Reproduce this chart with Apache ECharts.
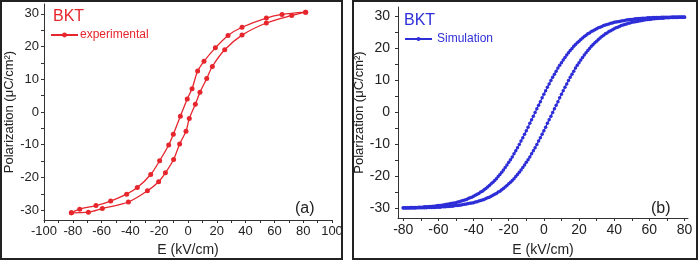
<!DOCTYPE html>
<html><head><meta charset="utf-8">
<script src="https://cdn.jsdelivr.net/npm/echarts@6/dist/echarts.min.js"></script>
<style>html,body{margin:0;padding:0;background:#fff}#c{width:699px;height:262px}</style>
</head><body><div id="c"></div>
<script>
// ---- Data ----
const expUpperE = [81.7, 65.3, 54.4, 37.5, 27.8, 19.0, 11.1, 6.7, 2.8, -0.5, -5.3, -10.2, -13.4, -19.7, -25.9, -35.2, -42.6, -53.7, -63.9, -75.2, -81.0];
const expUpperP = [30.5, 29.8, 28.7, 25.9, 23.4, 19.6, 15.5, 12.5, 7.1, 4.0, -1.3, -6.8, -10.1, -14.9, -19.1, -23.1, -25.1, -27.2, -28.6, -29.7, -30.8];
const expLowerE = [-81.0, -69.2, -59.5, -41.4, -28.2, -20.4, -15.7, -10.0, -5.8, -1.4, 0.9, 5.1, 8.3, 13.0, 16.9, 25.5, 37.5, 54.4, 72.0, 81.7];
const expLowerP = [-30.8, -30.6, -29.5, -27.5, -24.1, -21.3, -18.6, -14.5, -9.8, -5.9, -2.0, 2.4, 6.0, 10.2, 13.9, 19.0, 23.5, 27.2, 29.5, 30.5];

const simE = [-80,-79,-78,-77,-76,-75,-74,-73,-72,-71,-70,-69,-68,-67,-66,-65,-64,-63,-62,-61,-60,-59,-58,-57,-56,-55,-54,-53,-52,-51,-50,-49,-48,-47,-46,-45,-44,-43,-42,-41,-40,-39,-38,-37,-36,-35,-34,-33,-32,-31,-30,-29,-28,-27,-26,-25,-24,-23,-22,-21,-20,-19,-18,-17,-16,-15,-14,-13,-12,-11,-10,-9,-8,-7,-6,-5,-4,-3,-2,-1,0,1,2,3,4,5,6,7,8,9,10,11,12,13,14,15,16,17,18,19,20,21,22,23,24,25,26,27,28,29,30,31,32,33,34,35,36,37,38,39,40,41,42,43,44,45,46,47,48,49,50,51,52,53,54,55,56,57,58,59,60,61,62,63,64,65,66,67,68,69,70,71,72,73,74,75,76,77,78,79,80];
const simUpperP = [-29.8,-29.8,-29.8,-29.8,-29.7,-29.7,-29.7,-29.7,-29.7,-29.6,-29.6,-29.6,-29.5,-29.5,-29.5,-29.4,-29.4,-29.3,-29.3,-29.2,-29.1,-29.1,-29.0,-28.9,-28.8,-28.7,-28.6,-28.5,-28.4,-28.3,-28.2,-28.0,-27.9,-27.7,-27.5,-27.4,-27.2,-26.9,-26.7,-26.5,-26.2,-25.9,-25.6,-25.3,-24.9,-24.6,-24.2,-23.8,-23.3,-22.8,-22.3,-21.8,-21.3,-20.7,-20.0,-19.4,-18.7,-18.0,-17.2,-16.4,-15.6,-14.8,-13.9,-12.9,-12.0,-11.0,-10.0,-8.9,-7.9,-6.8,-5.7,-4.6,-3.4,-2.3,-1.2,0,1.2,2.3,3.4,4.6,5.7,6.8,7.9,8.9,10.0,11.0,12.0,12.9,13.9,14.8,15.6,16.4,17.2,18.0,18.7,19.4,20.0,20.7,21.3,21.8,22.3,22.8,23.3,23.8,24.2,24.6,24.9,25.3,25.6,25.9,26.2,26.5,26.7,26.9,27.2,27.4,27.5,27.7,27.9,28.0,28.2,28.3,28.4,28.5,28.6,28.7,28.8,28.9,29.0,29.1,29.1,29.2,29.3,29.3,29.4,29.4,29.5,29.5,29.5,29.6,29.6,29.6,29.7,29.7,29.7,29.7,29.7,29.8,29.8,29.8,29.8,29.8,29.8,29.9,29.9,29.9,29.9,29.9,29.9,29.9,29.9];
const simLowerP = [-29.9,-29.9,-29.9,-29.9,-29.9,-29.9,-29.9,-29.9,-29.8,-29.8,-29.8,-29.8,-29.8,-29.8,-29.7,-29.7,-29.7,-29.7,-29.7,-29.6,-29.6,-29.6,-29.5,-29.5,-29.5,-29.4,-29.4,-29.3,-29.3,-29.2,-29.1,-29.1,-29.0,-28.9,-28.8,-28.7,-28.6,-28.5,-28.4,-28.3,-28.2,-28.0,-27.9,-27.7,-27.5,-27.4,-27.2,-26.9,-26.7,-26.5,-26.2,-25.9,-25.6,-25.3,-24.9,-24.6,-24.2,-23.8,-23.3,-22.8,-22.3,-21.8,-21.3,-20.7,-20.0,-19.4,-18.7,-18.0,-17.2,-16.4,-15.6,-14.8,-13.9,-12.9,-12.0,-11.0,-10.0,-8.9,-7.9,-6.8,-5.7,-4.6,-3.4,-2.3,-1.2,0,1.2,2.3,3.4,4.6,5.7,6.8,7.9,8.9,10.0,11.0,12.0,12.9,13.9,14.8,15.6,16.4,17.2,18.0,18.7,19.4,20.0,20.7,21.3,21.8,22.3,22.8,23.3,23.8,24.2,24.6,24.9,25.3,25.6,25.9,26.2,26.5,26.7,26.9,27.2,27.4,27.5,27.7,27.9,28.0,28.2,28.3,28.4,28.5,28.6,28.7,28.8,28.9,29.0,29.1,29.1,29.2,29.3,29.3,29.4,29.4,29.5,29.5,29.5,29.6,29.6,29.6,29.7,29.7,29.7,29.7,29.7,29.8,29.8,29.8,29.8];

// ---- Tick labels ----
const leftXLabels = [-100,-80,-60,-40,-20,0,20,40,60,80,100];
const leftXTickMarks = [-100,-90,-80,-70,-60,-50,-40,-30,-20,-10,0,10,20,30,40,50,60,70,80,90,100];
const rightXLabels = [-80,-60,-40,-20,0,20,40,60,80];
const rightXTickMarks = [-80,-70,-60,-50,-40,-30,-20,-10,0,10,20,30,40,50,60,70,80];
const yLabels = [-30,-20,-10,0,10,20,30];
const yTickMarks = [-30,-25,-20,-15,-10,-5,0,5,10,15,20,25,30];

const RED = '#e6262c';
const BLUE = '#2e2ed8';
const FONT = '"Liberation Sans", Arial, sans-serif';
const zip = (a, b) => a.map((v, i) => [v, b[i]]);

function xAxisDef(gi, min, max, labels, marks, fs, gap) {
  return {
    type: 'value', gridIndex: gi, min: min, max: max,
    name: 'E (kV/cm)', nameLocation: 'middle', nameGap: gap,
    nameTextStyle: { fontFamily: FONT, fontSize: 14, color: '#222' },
    axisLine: { show: true, onZero: false, lineStyle: { color: '#333', width: 1 } },
    axisTick: { show: true, customValues: marks, length: 3, lineStyle: { color: '#333' } },
    axisLabel: { customValues: labels, fontFamily: FONT, fontSize: fs, color: '#222', margin: 5 },
    splitLine: { show: false }
  };
}
function yAxisDef(gi, fs, gap, margin) {
  return {
    type: 'value', gridIndex: gi, min: -33, max: 33,
    name: 'Polarization (μC/cm²)', nameLocation: 'middle', nameGap: gap,
    nameTextStyle: { fontFamily: FONT, fontSize: 13, color: '#222' },
    axisLine: { show: true, onZero: false, lineStyle: { color: '#333', width: 1 } },
    axisTick: { show: true, customValues: yTickMarks, length: 3, lineStyle: { color: '#333' } },
    axisLabel: { customValues: yLabels, fontFamily: FONT, fontSize: fs, color: '#222', margin: margin },
    splitLine: { show: false }
  };
}

const chart = echarts.init(document.getElementById('c'), null, { renderer: 'canvas' });
chart.setOption({
  animation: false,
  backgroundColor: '#fff',
  grid: [
    { left: 44, top: 4, width: 288, height: 220 },
    { left: 398, top: 7, width: 290, height: 215 }
  ],
  xAxis: [
    xAxisDef(0, -100, 100, leftXLabels, leftXTickMarks, 13, 23),
    xAxisDef(1, -83, 82, rightXLabels, rightXTickMarks, 14, 25)
  ],
  yAxis: [yAxisDef(0, 13, 27, 5), yAxisDef(1, 14, 29, 8)],
  title: [
    { text: 'BKT', left: 48, top: 4, padding: 5, textStyle: { color: RED, fontSize: 16, fontWeight: 'normal', fontFamily: FONT } },
    { text: 'BKT', left: 399, top: 8, padding: 5, textStyle: { color: BLUE, fontSize: 16, fontWeight: 'normal', fontFamily: FONT } },
    { text: '(a)', left: 290, top: 196, padding: 5, textStyle: { color: '#222', fontSize: 16, fontWeight: 'normal', fontFamily: FONT } },
    { text: '(b)', left: 646, top: 196, padding: 5, textStyle: { color: '#222', fontSize: 16, fontWeight: 'normal', fontFamily: FONT } }
  ],
  legend: [
    { data: ['experimental'], left: 45, top: 24, itemWidth: 27, itemHeight: 6, itemGap: 0,
      textStyle: { color: RED, fontSize: 12, fontFamily: FONT, padding: [0, 0, 0, -3] } },
    { data: ['Simulation'], left: 399, top: 28, itemWidth: 27, itemHeight: 5, itemGap: 0,
      textStyle: { color: BLUE, fontSize: 12, fontFamily: FONT } }
  ],
  graphic: [
    { type: 'rect', silent: true, z: 100, shape: { x: 1, y: 1, width: 341, height: 258 }, style: { fill: null, stroke: '#222', lineWidth: 2 } },
    { type: 'rect', silent: true, z: 100, shape: { x: 353, y: 1, width: 344, height: 258 }, style: { fill: null, stroke: '#222', lineWidth: 2 } }
  ],
  series: [
    { name: 'experimental', type: 'line', xAxisIndex: 0, yAxisIndex: 0, data: zip(expUpperE, expUpperP),
      smooth: 0.3, symbol: 'circle', symbolSize: 5, color: RED, lineStyle: { width: 1.3, color: RED }, itemStyle: { color: RED } },
    { name: 'experimental', type: 'line', xAxisIndex: 0, yAxisIndex: 0, data: zip(expLowerE, expLowerP),
      smooth: 0.3, symbol: 'circle', symbolSize: 5, color: RED, lineStyle: { width: 1.3, color: RED }, itemStyle: { color: RED } },
    { name: 'Simulation', type: 'line', xAxisIndex: 1, yAxisIndex: 1, data: zip(simE, simUpperP),
      smooth: false, symbol: 'circle', symbolSize: 3.5, color: BLUE, lineStyle: { width: 1.2, color: BLUE }, itemStyle: { color: BLUE } },
    { name: 'Simulation', type: 'line', xAxisIndex: 1, yAxisIndex: 1, data: zip(simE, simLowerP),
      smooth: false, symbol: 'circle', symbolSize: 3.5, color: BLUE, lineStyle: { width: 1.2, color: BLUE }, itemStyle: { color: BLUE } }
  ]
});
</script>
</body></html>
